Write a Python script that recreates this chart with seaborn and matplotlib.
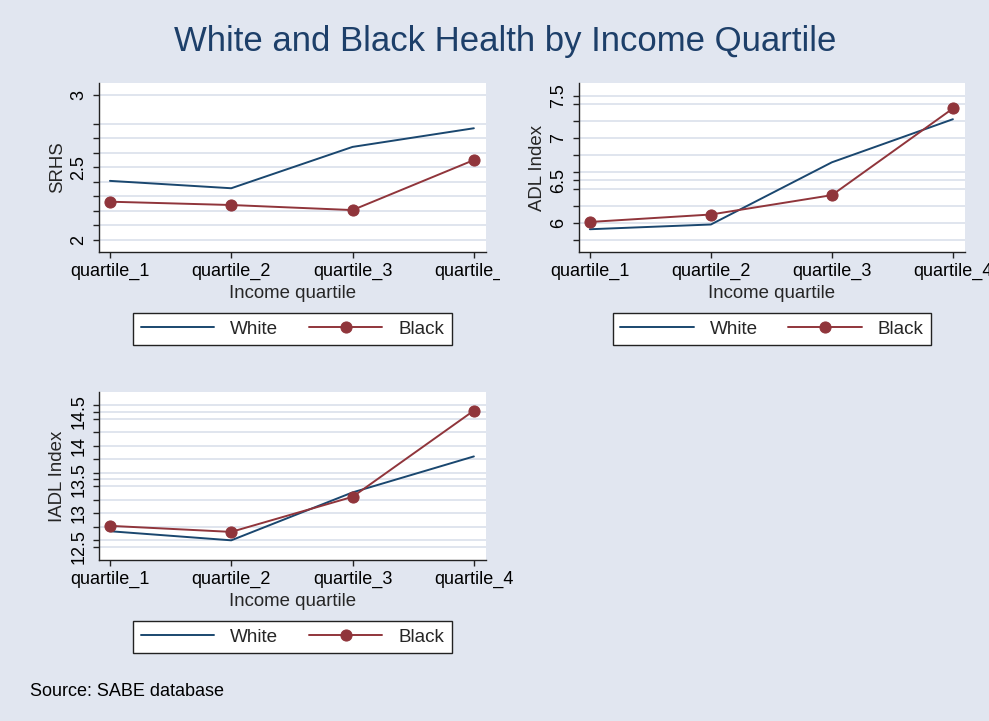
import matplotlib
matplotlib.use("Agg")
import matplotlib.pyplot as plt
from matplotlib.transforms import Bbox, TransformedBbox
import seaborn as sns
import numpy as np

# ---- data -------------------------------------------------------------
quartiles = ["quartile_1", "quartile_2", "quartile_3", "quartile_4"]

srhs_white = [2.406, 2.355, 2.641, 2.770]
srhs_black = [2.262, 2.239, 2.204, 2.550]

adl_white = [5.923, 5.979, 6.714, 7.223]
adl_black = [6.009, 6.097, 6.326, 7.350]

iadl_white = [12.73, 12.595, 13.306, 13.84]
iadl_black = [12.81, 12.72, 13.24, 14.52]

srhs_major = [2, 2.5, 3]
srhs_minor = [2.1, 2.2, 2.3, 2.4, 2.6, 2.7, 2.8]
adl_major = [6, 6.5, 7, 7.5]
adl_minor = [5.8, 6.2, 6.4, 6.6, 6.8, 7.2, 7.4]
iadl_major = [12.5, 13, 13.5, 14, 14.5]
iadl_minor = [12.6, 12.8, 13.0, 13.2, 13.4, 13.6, 13.8, 14.0, 14.2, 14.4, 14.6]

# ---- style ------------------------------------------------------------
sns.set_style("white")
plt.rcParams["font.family"] = ["Liberation Sans", "DejaVu Sans"]

BG = "#E1E6F0"
GRID = "#DAE0EB"
NAVY = "#1A476F"
TITLE = "#1D3F69"
MAROON = "#90353B"
W, H = 989, 721

fig = plt.figure(figsize=(W / 100, H / 100), dpi=100, facecolor=BG)


def px_axes(left, top, right, bottom):
    return fig.add_axes([left / W, 1 - bottom / H, (right - left) / W, (bottom - top) / H])


def panel(ax, white, black, ylabel, ylim, major, minor, legend_cx, legend_cy):
    x = np.arange(len(quartiles))
    sns.lineplot(x=x, y=white, ax=ax, color=NAVY, lw=1.4, label="White", sort=False)
    sns.lineplot(x=x, y=black, ax=ax, color=MAROON, lw=1.4, marker="o",
                 markersize=8, markeredgecolor=MAROON, markerfacecolor=MAROON,
                 label="Black", sort=False)
    ax.set_facecolor("white")
    ax.set_xlim(-0.09, 3.10)
    ax.set_ylim(*ylim)
    ax.set_xticks(x)
    ax.set_xticklabels(quartiles)
    ax.set_yticks(major)
    ax.set_yticklabels([f"{v:g}" for v in major])
    ax.set_yticks(minor, minor=True)
    ax.grid(which="both", axis="y", color=GRID, lw=1.2)
    ax.grid(False, axis="x")
    ax.set_axisbelow(True)
    for s in ("top", "right"):
        ax.spines[s].set_visible(False)
    for s in ("left", "bottom"):
        ax.spines[s].set_color("#222222")
        ax.spines[s].set_linewidth(1.0)
    ax.tick_params(axis="both", which="both", direction="out", length=4.5,
                   width=1.0, color="#222222", labelsize=13, labelcolor="black",
                   left=True, bottom=True)
    ax.tick_params(axis="y", which="both", labelrotation=90, pad=4)
    ax.tick_params(axis="x", pad=3)
    for t in ax.get_yticklabels():
        t.set_va("center")
    ax.set_xlabel("Income quartile", fontsize=13.4, labelpad=4)
    ax.set_ylabel(ylabel, fontsize=13.4, labelpad=3)
    handles, labels = ax.get_legend_handles_labels()
    leg = ax.legend(handles, labels, loc="center", ncol=2,
                    bbox_to_anchor=(legend_cx / W, 1 - legend_cy / H),
                    bbox_transform=fig.transFigure, frameon=True, fancybox=False,
                    edgecolor="#222222", facecolor="white", framealpha=1,
                    fontsize=13.6, handlelength=3.9, handletextpad=0.85,
                    columnspacing=1.6, borderpad=0.4, borderaxespad=0)
    leg.get_frame().set_linewidth(1.0)
    return ax


ax1 = px_axes(99, 83, 486, 252)
panel(ax1, srhs_white, srhs_black, "SRHS", (1.914, 3.083),
      srhs_major, srhs_minor, 292.5, 329)

ax2 = px_axes(579, 83, 965, 252)
panel(ax2, adl_white, adl_black, "ADL Index", (5.654, 7.651),
      adl_major, adl_minor, 772, 329)

ax3 = px_axes(99, 392, 486, 560)
panel(ax3, iadl_white, iadl_black, "IADL Index", (12.303, 14.796),
      iadl_major, iadl_minor, 292.5, 637)

# the right-hand panel's region covers anything of the left panel past x=500
clip = TransformedBbox(Bbox([[0, 0], [500 / W, 1]]), fig.transFigure)
for t in ax1.get_xticklabels():
    t.set_clip_box(clip)
    t.set_clip_on(True)

fig.text(505 / W, 1 - 42 / H, "White and Black Health by Income Quartile",
         ha="center", va="center", fontsize=25, color=TITLE)
fig.text(30 / W, 1 - 692 / H, "Source: SABE database", ha="left", va="center",
         fontsize=13, color="black")

fig.savefig("out.png", dpi=100, facecolor=BG)
